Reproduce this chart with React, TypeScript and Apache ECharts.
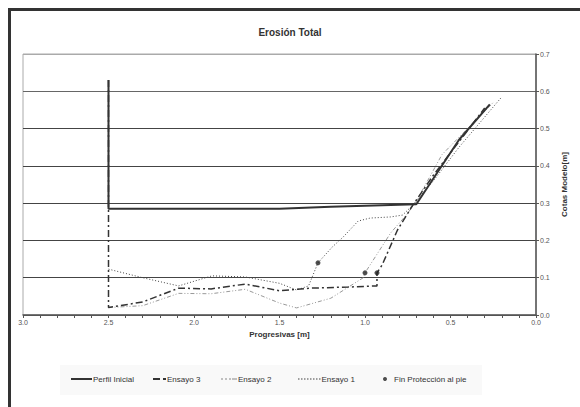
import React, { useEffect, useRef } from 'react';
import * as echarts from 'echarts';

const perfilX = [2.5, 2.5, 1.5, 1.2, 0.7, 0.45, 0.27];
const perfilY = [0.63, 0.285, 0.285, 0.29, 0.297, 0.47, 0.565];

const ens3X = [2.5, 2.5, 2.3, 2.09, 1.9, 1.7, 1.5, 1.32, 1.1, 0.93, 0.93, 0.9, 0.81, 0.72, 0.6, 0.45, 0.3];
const ens3Y = [0.63, 0.02, 0.035, 0.072, 0.07, 0.083, 0.065, 0.072, 0.075, 0.078, 0.113, 0.134, 0.228, 0.295, 0.375, 0.465, 0.555];

const ens2X = [2.5, 2.3, 2.09, 1.9, 1.7, 1.5, 1.4, 1.2, 1.01, 1.0, 0.85, 0.755, 0.7, 0.55, 0.4, 0.25];
const ens2Y = [0.02, 0.025, 0.058, 0.057, 0.069, 0.032, 0.019, 0.045, 0.1, 0.113, 0.22, 0.27, 0.305, 0.43, 0.5, 0.57];

const ens1X = [2.5, 2.3, 2.09, 1.895, 1.7, 1.5, 1.4, 1.33, 1.275, 1.19, 1.13, 1.04, 0.97, 0.85, 0.78, 0.72, 0.6, 0.45, 0.2];
const ens1Y = [0.123, 0.1, 0.078, 0.105, 0.102, 0.085, 0.067, 0.078, 0.14, 0.183, 0.208, 0.252, 0.26, 0.263, 0.268, 0.295, 0.36, 0.45, 0.585];

const finX = [1.275, 1.0, 0.93];
const finY = [0.14, 0.113, 0.113];

const legendNames = ['Perfil Inicial', 'Ensayo 3', 'Ensayo 2', 'Ensayo 1', 'Fin Protección al pie'];

const zip = (xs: number[], ys: number[]) => xs.map((x, i) => [x, ys[i]]);

const FONT = 'Liberation Sans, Arial, sans-serif';

const dots = (() => {
  let d = '';
  for (let x = 0; x <= 21; x += 3) d += `M${x},0H${x + 1.5}V1.2H${x}Z`;
  return d;
})();

const legendIcons = [
  { icon: 'path://M0,0H21V2H0Z', w: 21, h: 2 },
  { icon: 'path://M0,0H7V2H0Z M10,0H13V2H10Z', w: 13, h: 2 },
  { icon: 'path://M0,0H2V1H0Z M4,0H6V1H4Z M8,0H10V1H8Z M11,0H16V1H11Z', w: 16, h: 1 },
  { icon: 'path://' + dots, w: 22.5, h: 1.2 },
  { icon: 'circle', w: 4, h: 4 },
];
const legendLeft = [71, 153, 221, 298, 383];

export default function App() {
  const ref = useRef<HTMLDivElement>(null);
  useEffect(() => {
    document.body.style.margin = '0';
    const chart = echarts.init(ref.current!, undefined, { renderer: 'svg' });
    chart.setOption({
      animation: false,
      backgroundColor: '#fff',
      textStyle: { fontFamily: FONT },
      title: {
        text: 'Erosión Total',
        left: 'center',
        top: 22,
        textStyle: { fontSize: 10, fontWeight: 'bold', color: '#333', fontFamily: FONT },
      },
      graphic: [
        { type: 'rect', shape: { x: 8, y: 8, width: 600, height: 3 }, style: { fill: '#333' }, z: 100 },
        { type: 'rect', shape: { x: 8, y: 8, width: 3, height: 420 }, style: { fill: '#333' }, z: 100 },
        { type: 'rect', shape: { x: 60, y: 365, width: 422, height: 30 }, style: { fill: '#f9f9f9' }, z: -1 },
      ],
      legend: legendNames.map((n, i) => ({
        data: [{ name: n, icon: legendIcons[i].icon }],
        left: legendLeft[i],
        top: 375,
        padding: 0,
        itemWidth: legendIcons[i].w,
        itemHeight: legendIcons[i].h,
        itemGap: 0,
        symbolKeepAspect: false,
        textStyle: { fontSize: 8, color: '#333', fontFamily: FONT, padding: [0, 0, 0, i === 4 ? 2 : -4] },
      })),
      grid: { left: 23, right: 44, top: 54, bottom: 92, show: true, borderColor: '#aaa', borderWidth: 1 },
      xAxis: {
        type: 'value',
        inverse: true,
        min: 0,
        max: 3,
        interval: 0.5,
        name: 'Progresivas [m]',
        nameLocation: 'middle',
        nameGap: 14,
        nameTextStyle: { fontSize: 8, fontWeight: 'bold', color: '#333', fontFamily: FONT },
        axisLine: { show: true, lineStyle: { color: '#555', width: 1.5 } },
        axisTick: { show: true, length: 3, lineStyle: { color: '#555' } },
        minorTick: { show: true, splitNumber: 5, length: 3, lineStyle: { color: '#555' } },
        axisLabel: { fontSize: 7, color: '#555', margin: 4, formatter: (v: number) => v.toFixed(1) },
        splitLine: { show: false },
      },
      yAxis: {
        type: 'value',
        position: 'right',
        min: 0,
        max: 0.7,
        interval: 0.1,
        name: 'Cotas Modelo[m]',
        nameLocation: 'middle',
        nameRotate: 90,
        nameGap: 24,
        nameTextStyle: { fontSize: 8, fontWeight: 'bold', color: '#333', fontFamily: FONT },
        axisLine: { show: true, lineStyle: { color: '#555', width: 1.5 } },
        axisTick: { show: true, length: 3, lineStyle: { color: '#555' } },
        axisLabel: { fontSize: 7, color: '#555', margin: 4, formatter: (v: number) => v.toFixed(1) },
        splitLine: { show: true, lineStyle: { color: ['#555', '#444', '#444', '#444', '#444', '#444', '#666', '#aaa'], width: 1 } },
      },
      series: [
        {
          name: 'Perfil Inicial', type: 'line', data: zip(perfilX, perfilY), symbol: 'none',
          lineStyle: { color: '#333', width: 2 }, itemStyle: { color: '#333' }, z: 5,
        },
        {
          name: 'Ensayo 3', type: 'line', data: zip(ens3X, ens3Y), symbol: 'none',
          lineStyle: { color: '#333', width: 1.5, type: [7, 3, 2, 3] }, itemStyle: { color: '#333' }, z: 4,
        },
        {
          name: 'Ensayo 2', type: 'line', data: zip(ens2X, ens2Y), symbol: 'none',
          lineStyle: { color: '#999', width: 1, type: [4, 2, 1, 2, 1, 2] }, itemStyle: { color: '#888' }, z: 3,
        },
        {
          name: 'Ensayo 1', type: 'line', data: zip(ens1X, ens1Y), symbol: 'none',
          lineStyle: { color: '#444', width: 1, type: [1, 2] }, itemStyle: { color: '#444' }, z: 3,
        },
        {
          name: 'Fin Protección al pie', type: 'scatter', data: zip(finX, finY), symbol: 'circle', symbolSize: 5,
          itemStyle: { color: '#222' }, z: 6,
        },
      ],
    });
    return () => chart.dispose();
  }, []);
  return <div ref={ref} style={{ width: 580, height: 407 }} />;
}
